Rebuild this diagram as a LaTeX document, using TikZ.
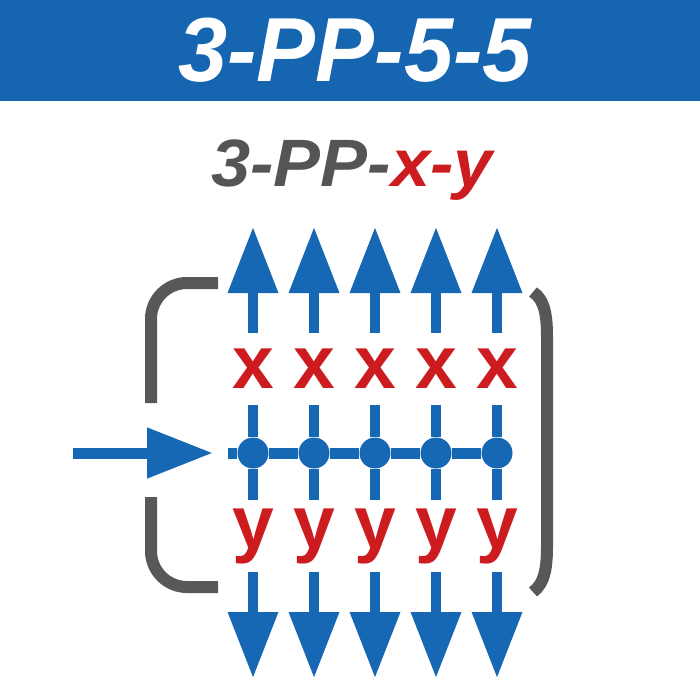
\documentclass[tikz,border=0pt]{standalone}
\usepackage{fontspec}
\usepackage{graphicx}
\usetikzlibrary{arrows.meta}
\newfontfamily\headfont{Liberation Sans}
\definecolor{banner_blue}{RGB}{22,101,176}
\definecolor{flow_blue}{RGB}{22,103,180}
\definecolor{brk_gray}{RGB}{88,88,88}
\definecolor{sub_gray}{RGB}{85,85,85}
\definecolor{lbl_red}{RGB}{205,28,32}

\begin{document}
\begin{tikzpicture}[x=1pt,y=-1pt,line cap=butt]
    \tikzstyle{dot}=[circle, fill=flow_blue, inner sep=0pt, minimum size=31pt]
    \tikzstyle{lbl}=[inner sep=0pt, minimum height=72pt, minimum width=40pt, text=lbl_red, font=\headfont\bfseries\fontsize{75pt}{75pt}\selectfont]
    \tikzstyle{flow}=[draw=flow_blue, line width=10pt]
    \tikzstyle{big}=[style=flow, -{Triangle[length=66pt,width=48pt]}]
    \tikzstyle{brk}=[draw=brk_gray, line width=12pt]

    \useasboundingbox (0,0) rectangle (700,700);
    \fill[banner_blue] (0,0) rectangle (700,101);
    \node[anchor=base, text=white, font=\headfont\bfseries\itshape\fontsize{91pt}{91pt}\selectfont] (title) at (355,82) {\scalebox{0.97}[1]{3-PP-5-5}};
    \node[anchor=base, font=\headfont\bfseries\itshape\fontsize{67pt}{67pt}\selectfont] (sub) at (352,187) {\scalebox{1.05}[1]{\textcolor{sub_gray}{3-PP-}\textcolor{lbl_red}{x-y}}};

    % brackets
    \draw[brk, rounded corners=36pt] (218,283) -- (151,283) -- (151,403);
    \draw[brk, rounded corners=36pt] (151,497) -- (151,587) -- (218,587);
    \draw[brk] (533,292) .. controls (545,300) and (547,316) .. (547,338) -- (547,545) .. controls (547,567) and (545,583) .. (533,592);

    \coordinate (in) at (73,453);
    \coordinate (inTip) at (213,453);
    \coordinate (hl) at (228,453);
    \foreach \i/\cx in {1/253,2/314,3/375,4/436,5/497}{
      \node[dot] (d\i) at (\cx,453) {};
      \node[lbl] (x\i) at (\cx,369) {x};
      \node[lbl] (y\i) at (\cx,536) {y};
      \coordinate (up\i) at (\cx,227);
      \coordinate (dn\i) at (\cx,678);
      \path
       (x\i) edge[big] (up\i)
       (x\i) edge[flow] (d\i)
       (d\i) edge[flow] (y\i)
       (y\i) edge[big] (dn\i)
       ;
    }
    \path
     (in) edge[big, line width=11pt] (inTip)
     (hl) edge[flow, line width=11pt] (d1)
     (d1) edge[flow, line width=11pt] (d2)
     (d2) edge[flow, line width=11pt] (d3)
     (d3) edge[flow, line width=11pt] (d4)
     (d4) edge[flow, line width=11pt] (d5)
     ;
\end{tikzpicture}
\end{document}
